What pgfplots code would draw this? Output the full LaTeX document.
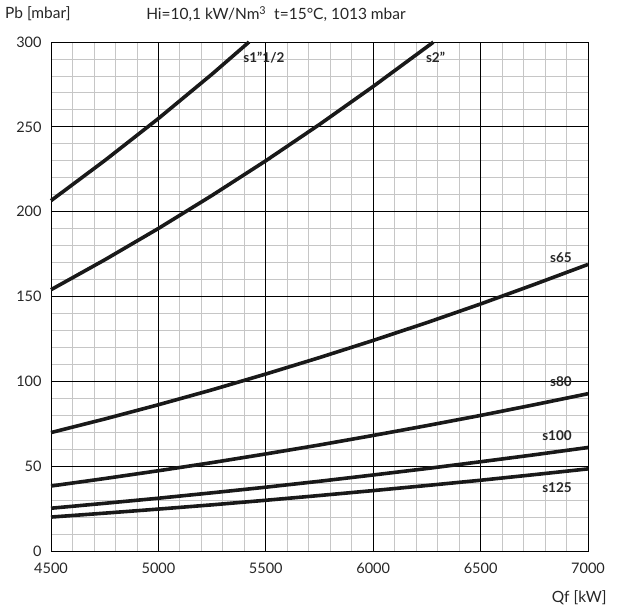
\documentclass[border=0pt]{standalone}
\usepackage{fontspec}
\setmainfont{Lato}
\usepackage{pgfplots}
\pgfplotsset{compat=1.18}
\begin{document}
\begin{tikzpicture}
\begin{axis}[
  scale only axis, width=537pt, height=509pt,
  xmin=4500, xmax=7000, ymin=0, ymax=300,
  xtick={4500,5000,...,7000}, ytick={0,50,...,300},
  minor x tick num=4, minor y tick num=4,
  grid=minor,
  minor grid style={gray!45, line width=0.8pt},
  extra x ticks={5000,5500,6000,6500},
  extra y ticks={50,100,150,200,250},
  extra tick style={grid=major, major grid style={black, line width=0.7pt}, ticklabel style={opacity=0}, /pgfplots/minor tick num=0},
  axis line style={black, line width=0.8pt},
  major tick length=0pt, minor tick length=0pt,
  /pgf/number format/assume math mode=true,
  /pgf/number format/1000 sep={},
  tick label style={font=\fontsize{14.5}{16}\selectfont, text=black!85},
  xticklabel style={yshift=-8pt},
  yticklabel style={xshift=-6pt},
  clip=false,
  curve/.style={black!90, line width=3.6pt, mark=none},
]
\addplot[curve] coordinates {(4500,206.5)(4750,230.1)(5000,254.9)(5250,281.1)(5422,300.0)};
\addplot[curve] coordinates {(4500,154)(4750,171.6)(5000,190.1)(5250,209.6)(5500,230.0)(5750,251.4)(6000,273.8)(6250,297.1)(6280,299.9)};
\addplot[curve] coordinates {(4500,69.8)(4750,77.8)(5000,86.2)(5250,95.0)(5500,104.3)(5750,114.0)(6000,124.1)(6250,134.6)(6500,145.6)(6750,157.1)(7000,168.9)};
\addplot[curve] coordinates {(4500,38.3)(4750,42.7)(5000,47.3)(5250,52.1)(5500,57.2)(5750,62.5)(6000,68.1)(6250,73.9)(6500,79.9)(6750,86.2)(7000,92.7)};
\addplot[curve] coordinates {(4500,25.2)(4750,28.1)(5000,31.1)(5250,34.3)(5500,37.6)(5750,41.1)(6000,44.8)(6250,48.6)(6500,52.6)(6750,56.7)(7000,61.0)};
\addplot[curve] coordinates {(4500,20)(4750,22.3)(5000,24.7)(5250,27.2)(5500,29.9)(5750,32.7)(6000,35.6)(6250,38.6)(6500,41.7)(6750,45.0)(7000,48.4)};
\begin{scope}[every node/.style={font=\bfseries\fontsize{13.5}{15}\selectfont, text=black!85, inner sep=0pt}]
\node[anchor=west] at (axis cs:5395,291) {s1\char34 1/2};
\node[anchor=west] at (axis cs:6245,291) {s2\char34};
\node[anchor=east] at (axis cs:6925,173) {s65};
\node[anchor=east] at (axis cs:6925,99.8) {s80};
\node[anchor=east] at (axis cs:6925,67.9) {s100};
\node[anchor=east] at (axis cs:6925,37.2) {s125};
\end{scope}
\begin{scope}[every node/.style={font=\fontsize{15.5}{17}\selectfont, text=black!85, inner sep=0pt}]
\node[anchor=west] at (axis description cs:-0.0857,1.055) {Pb [mbar]};
\node[anchor=west] at (axis description cs:0.177,1.055) {Hi=10,1 kW/Nm\textsuperscript{3}\ \ t=15°C, 1013 mbar};
\node[anchor=east] at (axis description cs:1.035,-0.0923) {Qf [kW]};
\end{scope}
\path (axis description cs:-0.095,-0.112) rectangle (axis description cs:1.0633,1.0825);
\end{axis}
\end{tikzpicture}
\end{document}
